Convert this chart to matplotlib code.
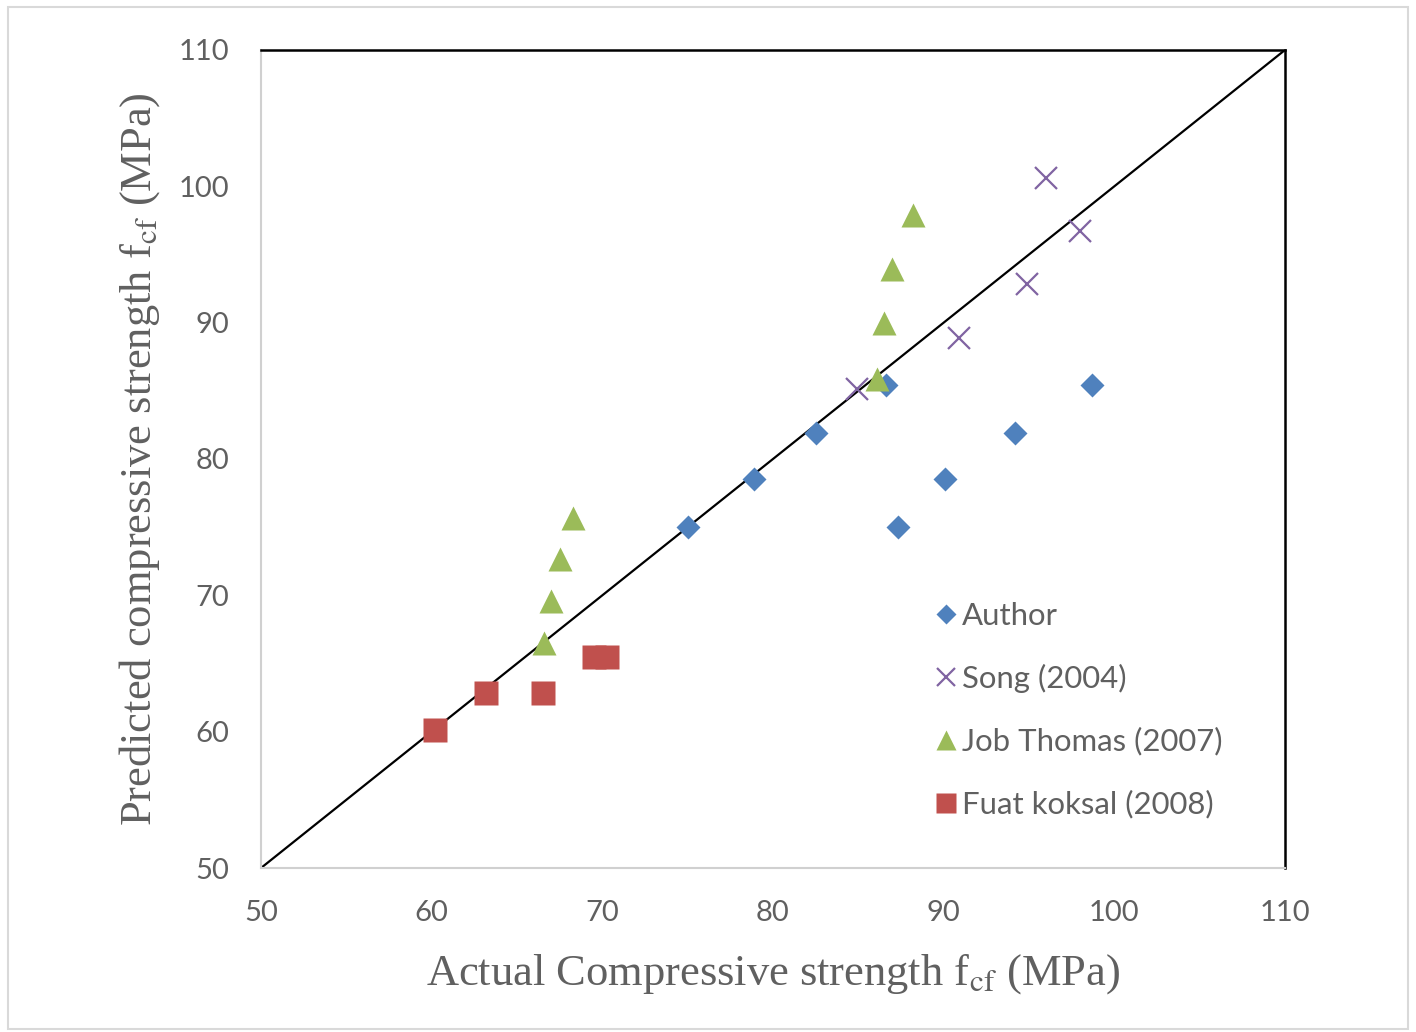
import matplotlib
matplotlib.use("Agg")
import matplotlib.pyplot as plt
from matplotlib.patches import Rectangle

# Measured vs predicted compressive strength (MPa)
author_x = [75.0, 78.9, 82.5, 86.6, 87.3, 90.1, 94.2, 98.7]
author_y = [75.0, 78.5, 81.9, 85.4, 75.0, 78.5, 81.9, 85.4]

song_x = [84.9, 90.9, 94.9, 96.0, 98.0]
song_y = [85.1, 88.9, 92.8, 100.6, 96.7]

thomas_x = [66.6, 67.0, 67.5, 68.3, 86.1, 86.5, 87.0, 88.2]
thomas_y = [66.5, 69.6, 72.7, 75.7, 85.9, 90.0, 93.9, 97.9]

koksal_x = [60.2, 63.2, 66.5, 69.5, 70.3]
koksal_y = [60.1, 62.8, 62.8, 65.5, 65.5]

ticks = [50, 60, 70, 80, 90, 100, 110]

grey_text = "#606060"

plt.rcParams["mathtext.fontset"] = "stix"

fig = plt.figure(figsize=(14.16, 10.32), dpi=100)
ax = fig.add_axes([0.1843, 0.1589, 0.7232, 0.7927])

# line of equality
ax.plot([50, 110], [50, 110], color="black", lw=1.6, zorder=2)

ax.plot(author_x, author_y, "D", ms=12.5, color="#4F81BD", mec="none",
        label="Author", zorder=3)
ax.plot(song_x, song_y, "x", ms=16, mew=1.6, color="#8064A2",
        label="Song (2004)", zorder=3)
ax.plot(thomas_x, thomas_y, "^", ms=17, color="#9BBB59", mec="none",
        label="Job Thomas (2007)", zorder=3)
ax.plot(koksal_x, koksal_y, "s", ms=17, color="#C0504D", mec="none",
        label="Fuat koksal (2008)", zorder=3)

ax.set_xlim(50, 110)
ax.set_ylim(50, 110)
ax.set_xticks(ticks)
ax.set_yticks(ticks)
ax.tick_params(length=0, labelsize=21, labelcolor=grey_text, pad=23)
for lab in ax.get_xticklabels() + ax.get_yticklabels():
    lab.set_fontfamily("Lato")

for side in ("left", "bottom"):
    ax.spines[side].set_color("#D0D0D0")
    ax.spines[side].set_linewidth(1.5)
for side in ("top", "right"):
    ax.spines[side].set_color("black")
    ax.spines[side].set_linewidth(1.8)

ax.set_xlabel(r"Actual Compressive strength f$_{\mathrm{cf}}$ (MPa)",
              fontsize=32, family="Liberation Serif", color=grey_text, labelpad=19)
ax.set_ylabel(r"Predicted compressive strength f$_{\mathrm{cf}}$ (MPa)",
              fontsize=32, family="Liberation Serif", color=grey_text, labelpad=12)

leg = ax.legend(loc="lower left", bbox_to_anchor=(0.648, 0.045), frameon=False,
                prop={"family": "Lato", "size": 22.4}, handlelength=0.6,
                handletextpad=0.2, labelspacing=1.1, borderaxespad=0,
                markerscale=0.85)
for t in leg.get_texts():
    t.set_color(grey_text)

# light chart border
fig.patches.append(Rectangle((0.006, 0.003), 0.988, 0.99, transform=fig.transFigure,
                             fill=False, edgecolor="#D9D9D9", lw=1.5))

fig.savefig("out.png", dpi=100)
